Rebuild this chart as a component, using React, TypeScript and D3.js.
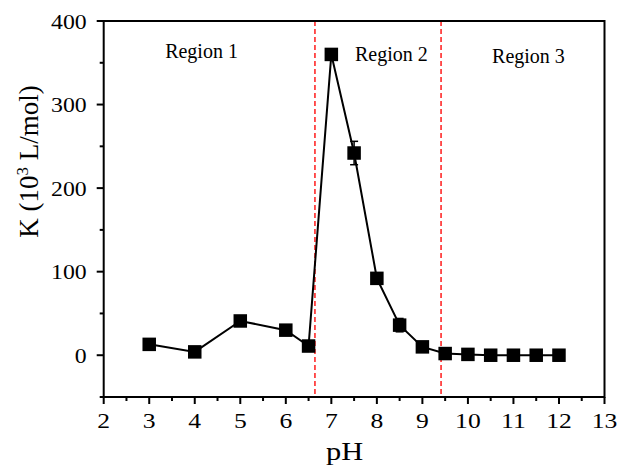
import React from 'react';
import * as d3 from 'd3';

const phValues = [3, 4, 5, 6, 6.5, 7, 7.5, 8, 8.5, 9, 9.5, 10, 10.5, 11, 11.5, 12];
const kValues = [13, 4, 41, 30, 11, 360, 242, 92, 36, 10, 2, 1, 0, 0, 0, 0];
const kErrors = [3, 2, 4, 4, 3, 4, 14, 5, 8, 3, 2, 1, 1, 1, 1, 1];
const boundaries = [6.64, 9.41];
const regionLabels = ['Region 1', 'Region 2', 'Region 3'];
// left edge pH, baseline K
const regionLabelPos = [[3.35, 356], [7.52, 352], [10.53, 350]];
const xTicks = d3.range(2, 14);
const yTicks = [0, 100, 200, 300, 400];

const width = 618;
const height = 467;
const margin = { top: 21, right: 13.5, bottom: 70, left: 103.7 };

const App = () => {
    const innerWidth = width - margin.left - margin.right;
    const innerHeight = height - margin.top - margin.bottom;

    const xScale = d3.scaleLinear().domain([2, 13]).range([0, innerWidth]);
    const yScale = d3.scaleLinear().domain([-50, 400]).range([innerHeight, 0]);

    const points = phValues.map((x, i) => ({ x, y: kValues[i], e: kErrors[i] }));
    const line = d3.line<{ x: number; y: number }>()
        .x(d => xScale(d.x))
        .y(d => yScale(d.y));

    const xMinor = d3.range(2.5, 13, 1);
    const yMinor = [-50, 50, 150, 250, 350];
    const font = '"Liberation Serif", "Times New Roman", serif';
    const ms = 13.5;

    return (
        <svg width={width} height={height} style={{ position: 'absolute', left: 0, top: 0 }} fontFamily={font}>
            <g transform={`translate(${margin.left}, ${margin.top})`}>
                {/* region boundaries */}
                {boundaries.map(b => (
                    <line key={b} x1={xScale(b)} x2={xScale(b)} y1={0} y2={innerHeight}
                        stroke="#ff1a1a" strokeWidth={1.5} strokeDasharray="5,3" />
                ))}

                {/* frame */}
                <rect x={0} y={0} width={innerWidth} height={innerHeight} fill="none" stroke="#000" strokeWidth={2} />

                {/* x axis */}
                {xTicks.map(t => (
                    <g key={t} transform={`translate(${xScale(t)}, ${innerHeight})`}>
                        <line y1={0} y2={7} stroke="#000" strokeWidth={2} />
                        <text transform="translate(0, 31) scale(1.22, 1)" textAnchor="middle" fontSize={21}>{t}</text>
                    </g>
                ))}
                {xMinor.map(t => (
                    <line key={t} x1={xScale(t)} x2={xScale(t)} y1={innerHeight} y2={innerHeight + 4} stroke="#000" strokeWidth={2} />
                ))}

                {/* y axis */}
                {yTicks.map(t => (
                    <g key={t} transform={`translate(0, ${yScale(t)})`}>
                        <line x1={0} x2={-7} stroke="#000" strokeWidth={2} />
                        <text transform="translate(-17, 7.5) scale(1.08, 1)" textAnchor="end" fontSize={22}>{t}</text>
                    </g>
                ))}
                {yMinor.map(t => (
                    <line key={t} x1={0} x2={-4} y1={yScale(t)} y2={yScale(t)} stroke="#000" strokeWidth={2} />
                ))}

                {/* axis titles */}
                <text transform={`translate(${344.7 - margin.left}, ${460 - margin.top}) scale(1.17, 1)`} textAnchor="middle" fontSize={26}>pH</text>
                <text transform={`translate(${37.6 - margin.left}, ${161.5 - margin.top}) rotate(-90)`} textAnchor="middle" fontSize={27}>
                    K (10<tspan dy="-10" fontSize={17}>3</tspan><tspan dy="10"> L/mol)</tspan>
                </text>

                {/* region labels */}
                {regionLabels.map((r, i) => (
                    <text key={r} x={xScale(regionLabelPos[i][0])} y={yScale(regionLabelPos[i][1])} fontSize={20}>{r}</text>
                ))}

                {/* data line */}
                <path d={line(points) || ''} fill="none" stroke="#000" strokeWidth={2} />

                {/* error bars */}
                {points.map(p => (
                    <g key={'e' + p.x}>
                        <line x1={xScale(p.x)} x2={xScale(p.x)} y1={yScale(p.y - p.e)} y2={yScale(p.y + p.e)} stroke="#000" strokeWidth={1.5} />
                        <line x1={xScale(p.x) - 4} x2={xScale(p.x) + 4} y1={yScale(p.y - p.e)} y2={yScale(p.y - p.e)} stroke="#000" strokeWidth={1.5} />
                        <line x1={xScale(p.x) - 4} x2={xScale(p.x) + 4} y1={yScale(p.y + p.e)} y2={yScale(p.y + p.e)} stroke="#000" strokeWidth={1.5} />
                    </g>
                ))}

                {/* markers */}
                {points.map(p => (
                    <rect key={'m' + p.x} x={xScale(p.x) - ms / 2} y={yScale(p.y) - ms / 2} width={ms} height={ms} fill="#000" />
                ))}
            </g>
        </svg>
    );
};

export default App;
